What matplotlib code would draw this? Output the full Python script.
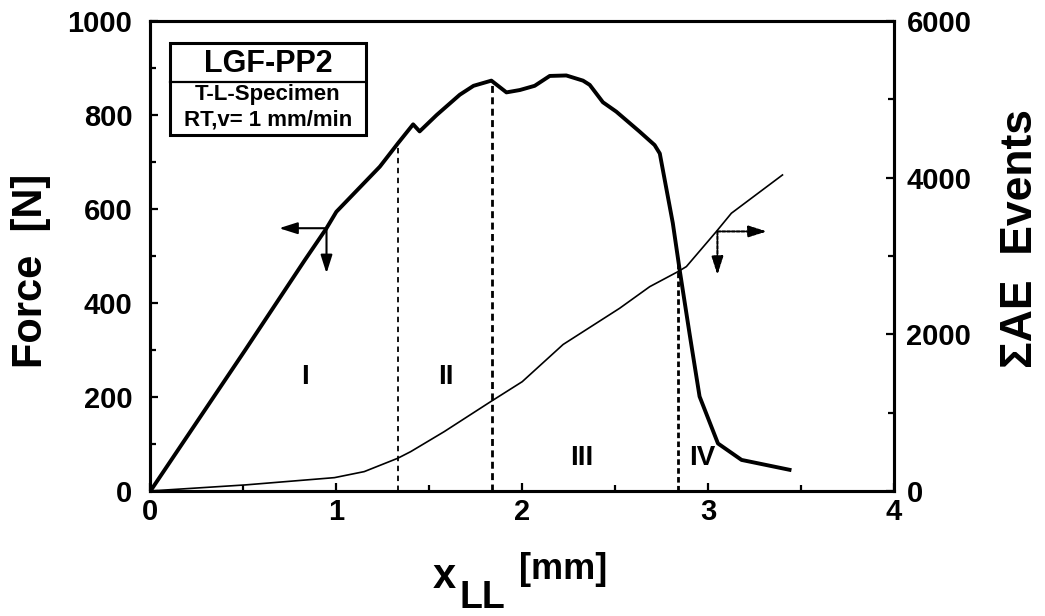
import matplotlib
matplotlib.use("Agg")
import matplotlib.pyplot as plt
from matplotlib.patches import Rectangle
import numpy as np

plt.rcParams['font.family'] = ['Liberation Sans', 'DejaVu Sans']
plt.rcParams['font.weight'] = 'bold'

# load-line displacement vs force (thick curve)
force_x = [0, 0.51, 0.83, 0.947, 1.00, 1.234, 1.332, 1.413, 1.448, 1.54, 1.664,
           1.738, 1.834, 1.86, 1.915, 1.987, 2.067, 2.148, 2.237, 2.327, 2.363,
           2.434, 2.506, 2.63, 2.712, 2.74, 2.81, 2.847, 2.90, 2.954, 3.053,
           3.18, 3.438]
force = [0, 300, 491, 559, 594, 690, 740, 780, 765, 800, 843, 862, 873, 865,
         848, 853, 862, 883, 884, 873, 864, 827, 807, 765, 736, 718, 570, 470,
         335, 201, 101, 66, 45]

# cumulative acoustic emission events (thin curve)
ae_x = [0, 0.51, 0.99, 1.15, 1.33, 1.40, 1.58, 1.83, 2.0, 2.22, 2.524, 2.686,
        2.838, 2.883, 3.044, 3.125, 3.40]
ae = [0, 77, 170, 247, 417, 502, 757, 1140, 1395, 1870, 2332, 2608, 2800,
      2864, 3311, 3545, 4034]

# damage stage boundaries and labels
stage_x = [1.332, 1.84, 2.84]
stage_names = ['I', 'II', 'III', 'IV']
stage_label_x = [0.83, 1.59, 2.318, 2.97]
stage_label_y = [243, 243, 70, 70]

W, H = 1045, 616
fig = plt.figure(figsize=(W / 100, H / 100), dpi=100)
ax = fig.add_axes([0.144, 0.203, 0.7115, 0.763])
ax2 = ax.twinx()

ax.plot(force_x, force, color='black', lw=2.8, solid_joinstyle='round')
ax2.plot(ae_x, ae, color='black', lw=1.2)

dash_styles = [(0, (3, 2.5)), (0, (2.5, 1.6)), (0, (2, 1.2))]
dash_widths = [1.3, 2.0, 2.0]
for sx, ls, lw in zip(stage_x, dash_styles, dash_widths):
    ax.plot([sx, sx], [0, np.interp(sx, force_x, force)], color='black',
            ls=ls, lw=lw)

for name, lx, ly in zip(stage_names, stage_label_x, stage_label_y):
    ax.text(lx, ly, name, ha='center', va='center', fontsize=20,
            fontweight='bold')

# arrows pointing to the respective axes
arrow = dict(arrowstyle='-|>,head_length=1.1,head_width=0.35', color='black',
             lw=1.5, shrinkA=0, shrinkB=0)
fx, fy = 0.947, 559
ax.annotate('', xy=(0.692, fy), xytext=(fx, fy), arrowprops=arrow)
ax.annotate('', xy=(fx, 463), xytext=(fx, fy), arrowprops=arrow)

arrow_dot = dict(arrow, ls=(0, (1.5, 0.8)))
ax2_x, ax2_y = 3.05, 3313
ax2.annotate('', xy=(3.316, ax2_y), xytext=(ax2_x, ax2_y), arrowprops=arrow_dot)
ax2.annotate('', xy=(ax2_x, 2757), xytext=(ax2_x, ax2_y), arrowprops=arrow_dot)

ax.set_xlim(0, 4)
ax.set_ylim(0, 1000)
ax2.set_ylim(0, 6000)
ax.set_xticks([0, 1, 2, 3, 4])
ax.set_xticks(np.arange(0, 4.01, 0.5), minor=True)
ax.set_yticks(np.arange(0, 1001, 200))
ax.set_yticks(np.arange(0, 1001, 100), minor=True)
ax2.set_yticks([0, 2000, 4000, 6000])
ax2.set_yticks(np.arange(0, 6001, 1000), minor=True)

ax.tick_params(axis='both', which='both', direction='in', labelsize=21,
               width=1.6)
ax.tick_params(axis='both', which='major', length=6)
ax.tick_params(axis='both', which='minor', length=4)
ax.tick_params(axis='y', pad=13)
ax.tick_params(axis='x', pad=5)
ax2.tick_params(axis='y', which='both', direction='in', labelsize=21,
                width=1.6, pad=9)
ax2.tick_params(axis='y', which='major', length=6)
ax2.tick_params(axis='y', which='minor', length=4)
for a in (ax, ax2):
    for lab in a.get_xticklabels() + a.get_yticklabels():
        lab.set_fontweight('bold')
    for sp in a.spines.values():
        sp.set_linewidth(2.2)

ax.set_ylabel('Force  [N]', fontsize=30, fontweight='bold')
ax.yaxis.set_label_coords(-0.134, 0.468)
ax2.set_ylabel('ΣAE  Events', fontsize=32, fontweight='bold')
ax2.yaxis.set_label_coords(1.142, 0.538)

# x axis label: x with LL subscript, unit raised
ax_label = dict(fontweight='bold', va='baseline', ha='left')
fig.text(433 / W, 1 - 588 / H, 'x', fontsize=30, **ax_label)
fig.text(459 / W, 1 - 608 / H, 'LL', fontsize=27, **ax_label)
fig.text(519 / W, 1 - 579 / H, '[mm]', fontsize=26, **ax_label)

# specimen info box
ax.add_patch(Rectangle((0.026, 0.757), 0.264, 0.196, transform=ax.transAxes,
                       fill=False, lw=2.2, color='black'))
ax.plot([0.026, 0.29], [0.871, 0.871], transform=ax.transAxes, color='black',
        lw=1.6)
ax.text(0.158, 0.908, 'LGF-PP2', transform=ax.transAxes, ha='center',
        va='center', fontsize=22, fontweight='bold')
ax.text(0.158, 0.843, 'T-L-Specimen', transform=ax.transAxes, ha='center',
        va='center', fontsize=16, fontweight='bold')
ax.text(0.158, 0.789, 'RT,v= 1 mm/min', transform=ax.transAxes, ha='center',
        va='center', fontsize=16, fontweight='bold')

fig.savefig('out.png', dpi=100)
